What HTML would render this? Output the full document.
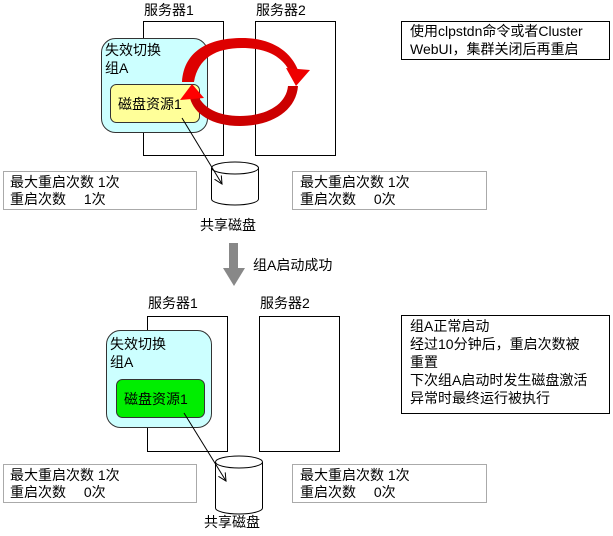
<!DOCTYPE html>
<html><head><meta charset="utf-8"><style>
body{margin:0;background:#fff;}
svg text{font-family:"Liberation Sans","Noto Sans CJK SC",sans-serif;font-size:14px;fill:#000;}
</style></head><body>
<svg width="613" height="531" viewBox="0 0 613 531" xmlns="http://www.w3.org/2000/svg">
<defs>
<marker id="ah" markerWidth="10" markerHeight="10" refX="8" refY="4" orient="auto" markerUnits="userSpaceOnUse"><path d="M0,0 L8,4 L0,8" fill="none" stroke="#000" stroke-width="1"/></marker>
</defs>
<!-- TOP -->
<text x="144" y="15">服务器1</text>
<text x="256" y="15">服务器2</text>
<rect x="143.5" y="21.5" width="80" height="134" fill="#fff" stroke="#000"/>
<rect x="255.5" y="21.5" width="80" height="134" fill="#fff" stroke="#000"/>
<rect x="101.5" y="38.5" width="106" height="94" rx="14" fill="#ccffff" stroke="#333"/>
<text x="105" y="55">失效切换</text>
<text x="105" y="73">组A</text>
<rect x="110.5" y="84.5" width="89" height="38" rx="6" fill="#ffff99" stroke="#333"/>
<text x="118" y="109">磁盘资源1</text>
<!-- red rotation arrows -->
<path d="M182,82 C184,50 210,38 242,38 C270,38 290,50 298,70 L290,72 C282,56 266,48 242,48 C216,48 198,58 194,82 Z" fill="#dd0000"/>
<polygon points="286,68 310,70 296,86" fill="#ee0000"/>
<path d="M298,86 C296,112 270,126 240,126 C212,126 194,114 190,98 L198,96 C204,108 218,116 240,116 C264,116 286,106 288,86 Z" fill="#cc0000"/>
<polygon points="180,100 204,98 192,84" fill="#ff0000"/>
<!-- cylinder top -->
<path d="M211.5,168 L211.5,199 A23.5,6 0 0 0 258.5,199 L258.5,168" fill="#fff" stroke="#000"/>
<ellipse cx="235" cy="168" rx="23.5" ry="6" fill="#fff" stroke="#000"/>
<text x="200" y="230">共享磁盘</text>
<line x1="182" y1="118" x2="222" y2="184" stroke="#000" marker-end="url(#ah)"/>
<rect x="3.5" y="171.5" width="193" height="38" fill="#fff" stroke="#555" stroke-dasharray="1,1"/>
<text x="10" y="187">最大重启次数 1次</text>
<text x="10" y="204">重启次数　 1次</text>
<rect x="292.5" y="171.5" width="194" height="38" fill="#fff" stroke="#555" stroke-dasharray="1,1"/>
<text x="300" y="187">最大重启次数 1次</text>
<text x="300" y="204">重启次数　 0次</text>
<rect x="401.5" y="21.5" width="208" height="38" fill="#fff" stroke="#000"/>
<text x="410" y="36">使用clpstdn命令或者Cluster</text>
<text x="410" y="54">WebUI，集群关闭后再重启</text>
<!-- middle arrow -->
<rect x="229" y="243" width="9" height="26" fill="#888"/>
<polygon points="223,268 245,268 234,286" fill="#888"/>
<text x="253" y="270">组A启动成功</text>
<!-- BOTTOM -->
<text x="148" y="308">服务器1</text>
<text x="260" y="308">服务器2</text>
<rect x="147.5" y="316.5" width="80" height="135" fill="#fff" stroke="#000"/>
<rect x="259.5" y="316.5" width="80" height="135" fill="#fff" stroke="#000"/>
<rect x="106.5" y="330.5" width="105" height="97" rx="14" fill="#ccffff" stroke="#333"/>
<text x="110" y="349">失效切换</text>
<text x="110" y="367">组A</text>
<rect x="116.5" y="379.5" width="88" height="38" rx="6" fill="#00ee00" stroke="#333"/>
<text x="124" y="404">磁盘资源1</text>
<path d="M215.5,462 L215.5,508 A23.5,6 0 0 0 262.5,508 L262.5,462" fill="#fff" stroke="#000"/>
<ellipse cx="239" cy="462" rx="23.5" ry="6" fill="#fff" stroke="#000"/>
<text x="204" y="527">共享磁盘</text>
<line x1="184" y1="413" x2="226" y2="481" stroke="#000" marker-end="url(#ah)"/>
<rect x="3.5" y="464.5" width="193" height="38" fill="#fff" stroke="#555" stroke-dasharray="1,1"/>
<text x="10" y="480">最大重启次数 1次</text>
<text x="10" y="497">重启次数　 0次</text>
<rect x="292.5" y="464.5" width="194" height="38" fill="#fff" stroke="#555" stroke-dasharray="1,1"/>
<text x="300" y="480">最大重启次数 1次</text>
<text x="300" y="497">重启次数　 0次</text>
<rect x="401.5" y="315.5" width="208" height="98" fill="#fff" stroke="#000"/>
<text x="410" y="331">组A正常启动</text>
<text x="410" y="349">经过10分钟后，重启次数被</text>
<text x="410" y="367">重置</text>
<text x="410" y="385">下次组A启动时发生磁盘激活</text>
<text x="410" y="403">异常时最终运行被执行</text>
</svg>
</body></html>
